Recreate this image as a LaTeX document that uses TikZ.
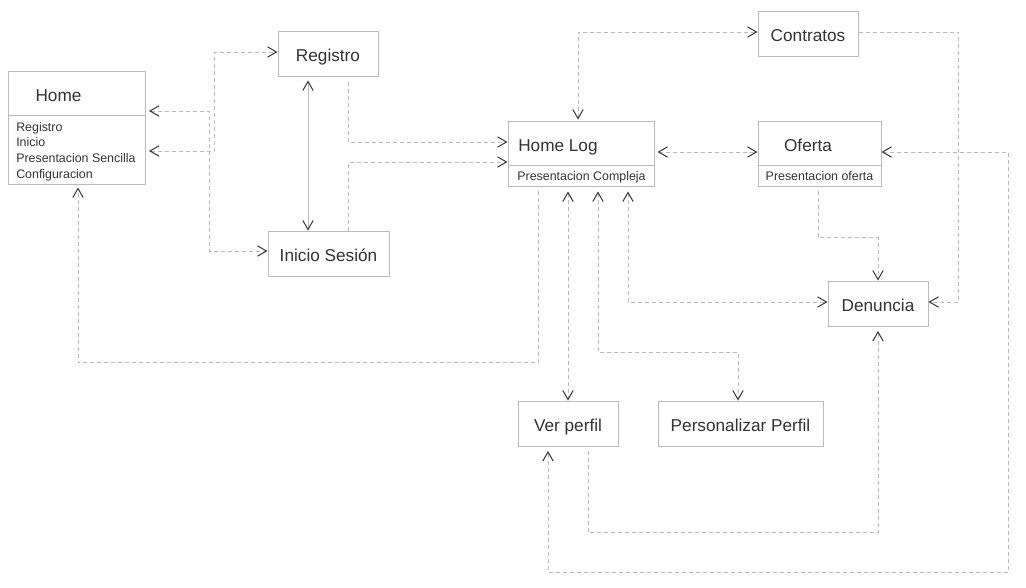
\documentclass[tikz,border=0pt]{standalone}
\usepackage{fontspec}
\setmainfont{Liberation Sans}
\usetikzlibrary{arrows.meta,calc}
\definecolor{boxc}{HTML}{BBBBBB}
\definecolor{linec}{HTML}{BBBBBB}
\definecolor{tipc}{HTML}{333333}
\definecolor{txtc}{HTML}{333333}
\begin{document}
\begin{tikzpicture}[x=0.75pt,y=-0.75pt,
  >={Straight Barb[length=6.75pt,width=7.75pt,color=tipc]},
  box/.style={draw=boxc,line width=0.75pt,fill=white,inner sep=0pt,minimum height=33.75pt,
    text=txtc,font=\fontsize{12.9}{15}\selectfont,text height=11.25pt,text depth=0pt},
  cbox/.style={draw=boxc,line width=0.75pt,fill=white,inner sep=0pt,minimum height=48.75pt},
  ttl/.style={inner sep=0pt,text=txtc,font=\fontsize{12.9}{15}\selectfont},
  small/.style={inner sep=0pt,text=txtc,font=\fontsize{9.3}{11}\selectfont},
  divider/.style={draw=boxc,line width=0.75pt},
  conn/.style={draw=linec,line width=0.75pt,dash pattern=on 3pt off 2.25pt},
  solidconn/.style={draw=linec,line width=0.75pt}]
\useasboundingbox[fill=white] (0,0) rectangle (1026,587);

% Home (compartment box)
\node[cbox,minimum width=102.75pt,minimum height=84.75pt] (home) at (76.5,127.5) {};
\draw[divider] ($(home.north west)+(0,45)$) -- ($(home.north east)+(0,45)$);
\node[ttl,anchor=base] (homet) at (58.5,101) {Home};
\node[small,anchor=base west] (hi1) at (16,131) {Registro};
\node[small,anchor=base west] (hi2) at (16,146.5) {Inicio};
\node[small,anchor=base west] (hi3) at (16,162.5) {Presentacion Sencilla};
\node[small,anchor=base west] (hi4) at (16,178) {Configuracion};

% simple boxes
\node[box,minimum width=75pt] (reg) at (328,53.5) {Registro};
\node[box,minimum width=90.75pt] (ini) at (328.5,253.5) {Inicio Sesión};
\node[box,minimum width=75pt] (con) at (808,33.5) {Contratos};
\node[box,minimum width=75pt] (den) at (878,303.5) {Denuncia};
\node[box,minimum width=75pt] (vp) at (568,423.5) {Ver perfil};
\node[box,minimum width=123.75pt] (pp) at (740.5,423.5) {Personalizar Perfil};

% Home Log (compartment box)
\node[cbox,minimum width=109.5pt] (hl) at (581,153.5) {};
\draw[divider] ($(hl.north west)+(0,45)$) -- ($(hl.north east)+(0,45)$);
\node[ttl,anchor=base west] (hlt) at (518,151) {Home Log};
\node[small,anchor=base] (hls) at (581.5,180.5) {Presentacion Compleja};

% Oferta (compartment box)
\node[cbox,minimum width=92.25pt] (of) at (819.5,153.5) {};
\draw[divider] ($(of.north west)+(0,45)$) -- ($(of.north east)+(0,45)$);
\node[ttl,anchor=base] (oft) at (808,151) {Oferta};
\node[small,anchor=base] (ofs) at (819.5,180.5) {Presentacion oferta};

% connectors
\draw[conn,<->] ($(home.east)+(3.5,23.5)$) -- ++(65,0) |- ($(reg.west)+(0,-1.5)$);
\draw[conn,<->] ($(home.east)+(3.5,-16.5)$) -- ++(60,0) |- ($(ini.west)+(0,-2.5)$);
\draw[solidconn,<->] ($(reg.south)+(-20,4)$) -- ($(ini.north)+(-20.5,0)$);
\draw[conn,->] ($(reg.south)+(20,5)$) |- ($(hl.west)+(0,-11.5)$);
\draw[conn,->] ($(ini.north)+(19.5,0)$) |- ($(hl.west)+(0,8.5)$);
\draw[conn,->] ($(hl.south)+(-43,4)$) -- ++(0,172) -| ($(home.south)+(1.5,3)$);
\draw[conn,<->] ($(hl.north)+(-3,-1)$) |- ($(con.west)+(0,-1.5)$);
\draw[conn,->] ($(con.east)+(0,-1.5)$) -- ++(100,0) |- ($(den.east)+(0,-1.5)$);
\draw[conn,<->] ($(hl.east)+(3,-1.5)$) -- ($(of.west)+(0,-1.5)$);
\draw[conn,<->] ($(of.east)+(0,-1.5)$) -- ++(127,0) -- ++(0,420) -| ($(vp.south)+(-20,4.5)$);
\draw[conn,->] ($(of.south)+(-1.5,4)$) -- ++(0,47) -| (den.north);
\draw[conn,<->] ($(hl.south)+(47,5)$) |- ($(den.west)+(0,-1.5)$);
\draw[conn,<->] ($(hl.south)+(-13,5)$) -- (vp.north);
\draw[conn,<->] ($(hl.south)+(17,5)$) -- ++(0,161) -| ($(pp.north)+(-2.5,0)$);
\draw[conn,->] ($(vp.south)+(20,4)$) -- ++(0,82) -| ($(den.south)+(0,4.5)$);
\end{tikzpicture}
\end{document}
